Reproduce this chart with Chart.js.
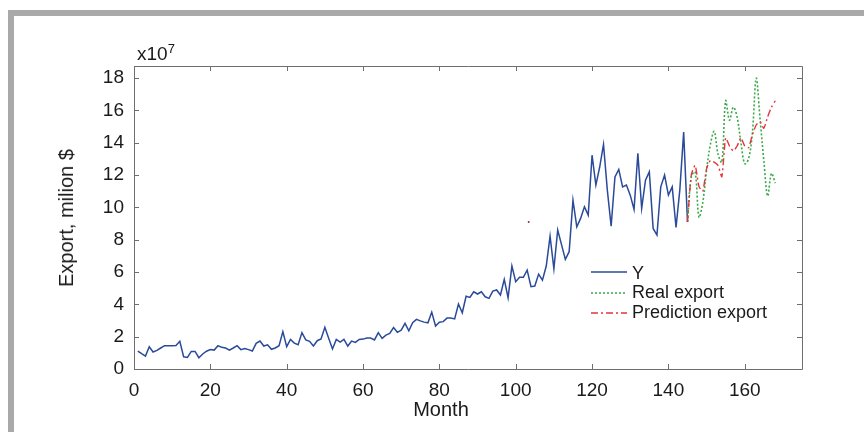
<!DOCTYPE html>
<html>
<head>
<meta charset="utf-8">
<script src="https://cdn.jsdelivr.net/npm/chart.js@4.4.1/dist/chart.umd.min.js"></script>
<style>
  html, body { margin: 0; padding: 0; background: #fff; }
  #wrap { position: relative; width: 864px; height: 432px; overflow: hidden;
    font-family: "Liberation Sans", Arial, sans-serif; color: #1a1a1a; }
  #frame { position: absolute; left: 8px; top: 10px; right: -20px; bottom: -20px;
    border-top: 6px solid #a9a9a9; border-left: 6px solid #a9a9a9; }
  canvas { position: absolute; left: 0; top: 0; }
  .lbl { position: absolute; white-space: nowrap; line-height: 1; }
  .leg { position: absolute; left: 632px; font-size: 18px; line-height: 1; white-space: nowrap; }
  .legline { position: absolute; left: 591px; }
</style>
</head>
<body>
<div id="wrap">
  <div id="frame"></div>
  <canvas id="c" width="864" height="432"></canvas>
  <div class="lbl" style="left:137px;top:42px;font-size:19px;">x10<sup style="font-size:13px;vertical-align:7px;">7</sup></div>
  <div class="lbl" style="left:66px;top:218px;font-size:20px;transform:translate(-50%,-50%) rotate(-90deg);">Export, milion $</div>
  <div class="lbl" style="left:441px;top:399px;font-size:20px;transform:translateX(-50%);">Month</div>

  <svg class="legline" style="top:269px" width="37" height="6"><line x1="0" y1="3" x2="36" y2="3" stroke="#2a4a9a" stroke-width="1.5"/></svg>
  <div class="leg" style="top:264px">Y</div>
  <svg class="legline" style="top:290px" width="37" height="6"><line x1="0" y1="3" x2="36" y2="3" stroke="#3aaa48" stroke-width="1.5" stroke-dasharray="2 2"/></svg>
  <div class="leg" style="top:283px">Real export</div>
  <svg class="legline" style="top:310px" width="37" height="6"><line x1="0" y1="3" x2="36" y2="3" stroke="#e4343c" stroke-width="1.4" stroke-dasharray="7 3 2 3"/></svg>
  <div class="leg" style="top:303px">Prediction export</div>
</div>
<script>
// values in units of 1e7 $
const yStartMonth = 1;
const yValues = [
  1.11, 0.95, 0.80, 1.38, 1.05, 1.15, 1.30, 1.44, 1.44, 1.44,
  1.45, 1.71, 0.76, 0.72, 1.09, 1.09, 0.70, 0.93, 1.10, 1.20,
  1.17, 1.44, 1.34, 1.30, 1.17, 1.30, 1.44, 1.20, 1.27, 1.20,
  1.11, 1.59, 1.73, 1.42, 1.50, 1.22, 1.30, 1.44, 2.31, 1.38,
  1.83, 1.60, 1.50, 2.25, 1.80, 1.71, 1.42, 1.75, 1.86, 2.58,
  1.90, 1.24, 1.83, 1.67, 1.83, 1.42, 1.73, 1.65, 1.83, 1.85,
  1.92, 1.92, 1.80, 2.25, 1.90, 2.10, 2.20, 2.56, 2.27, 2.40,
  2.82, 2.36, 2.86, 3.07, 2.98, 2.90, 2.86, 3.52, 2.66, 2.90,
  2.93, 3.15, 3.15, 3.10, 4.02, 3.48, 4.50, 4.43, 4.78, 4.64,
  4.78, 4.47, 4.37, 4.82, 4.89, 4.58, 5.55, 4.41, 6.37, 5.40,
  5.67, 5.67, 6.12, 5.09, 5.13, 5.87, 5.50, 6.37, 8.22, 6.20,
  8.60, 7.70, 6.78, 7.26, 10.45, 8.80, 9.32, 10.04, 9.52, 13.23,
  11.38, 12.50, 13.90, 11.07, 8.84, 11.89, 12.35, 11.27, 11.38, 10.76,
  9.88, 13.34, 9.94, 11.69, 12.20, 8.70, 8.29, 11.27, 12.00, 10.76,
  11.27, 8.76, 11.10, 14.66, 9.10
];
const forecastStartMonth = 145;
const realExport = [
  9.10, 11.90, 12.20, 9.40, 10.30, 12.30, 13.90, 14.70, 13.30, 12.80,
  16.60, 15.40, 16.20, 15.60, 14.00, 12.70, 13.00, 14.60, 18.00, 15.50,
  12.90, 10.70, 12.10, 11.50
];
const predictionExport = [
  9.10, 12.00, 12.60, 11.30, 11.00, 12.40, 12.90, 12.80, 12.60, 11.90,
  14.30, 13.80, 13.50, 13.80, 14.30, 13.80, 13.70, 14.50, 15.10, 15.30,
  14.90, 15.60, 16.20, 16.60
];
const strayPoint = [{ x: 103.4, y: 9.1 }];
const xTicks = [0, 20, 40, 60, 80, 100, 120, 140, 160];
const yTicks = [0, 2, 4, 6, 8, 10, 12, 14, 16, 18];

const FONT = '"Liberation Sans", Arial, sans-serif';
const toPts = (start, vals) => vals.map((v, i) => ({ x: start + i, y: v }));

// box round the axes with inward ticks, like matlab
const boxPlugin = {
  id: 'box',
  afterDraw(chart) {
    const { ctx, chartArea: a, scales: { x, y } } = chart;
    ctx.save();
    ctx.strokeStyle = '#6e6e6e';
    ctx.lineWidth = 1;
    ctx.beginPath();
    ctx.rect(a.left + 0.5, a.top + 0.5, a.right - a.left, a.bottom - a.top);
    xTicks.forEach(v => {
      const px = Math.round(x.getPixelForValue(v)) + 0.5;
      ctx.moveTo(px, a.bottom); ctx.lineTo(px, a.bottom - 5);
      ctx.moveTo(px, a.top); ctx.lineTo(px, a.top + 5);
    });
    yTicks.forEach(v => {
      const py = Math.round(y.getPixelForValue(v)) + 0.5;
      ctx.moveTo(a.left, py); ctx.lineTo(a.left + 5, py);
      ctx.moveTo(a.right, py); ctx.lineTo(a.right - 5, py);
    });
    ctx.stroke();
    ctx.restore();
  }
};

new Chart(document.getElementById('c'), {
  type: 'line',
  data: {
    datasets: [
      { label: 'Prediction export', data: toPts(forecastStartMonth, predictionExport),
        borderColor: '#e4343c', borderWidth: 1.4, borderDash: [7, 3, 2, 3], pointRadius: 0, tension: 0.2 },
      { label: 'Real export', data: toPts(forecastStartMonth, realExport),
        borderColor: '#3aaa48', borderWidth: 1.6, borderDash: [2, 2], pointRadius: 0, tension: 0.35 },
      { label: 'Y', data: toPts(yStartMonth, yValues),
        borderColor: '#2a4a9a', borderWidth: 1.5, pointRadius: 0, tension: 0 },
      { label: 'dot', data: strayPoint, showLine: false,
        pointRadius: 1, pointBackgroundColor: '#7a3a3a', pointBorderWidth: 0 }
    ]
  },
  options: {
    responsive: false,
    animation: false,
    layout: { padding: { left: 0, right: 62, top: 66, bottom: 0 } },
    plugins: { legend: { display: false }, tooltip: { enabled: false } },
    scales: {
      x: {
        type: 'linear', min: 0, max: 175,
        afterBuildTicks: s => { s.ticks = xTicks.map(v => ({ value: v })); },
        afterFit: s => { s.height = 63; },
        grid: { display: false }, border: { display: false },
        ticks: { font: { size: 19, family: FONT }, color: '#1a1a1a', padding: 2, maxRotation: 0, autoSkip: false }
      },
      y: {
        type: 'linear', min: 0, max: 18.75,
        afterBuildTicks: s => { s.ticks = yTicks.map(v => ({ value: v })); },
        afterFit: s => { s.width = 134; },
        grid: { display: false }, border: { display: false },
        ticks: { font: { size: 19, family: FONT }, color: '#1a1a1a', padding: 2, autoSkip: false }
      }
    }
  },
  plugins: [boxPlugin]
});
</script>
</body>
</html>
